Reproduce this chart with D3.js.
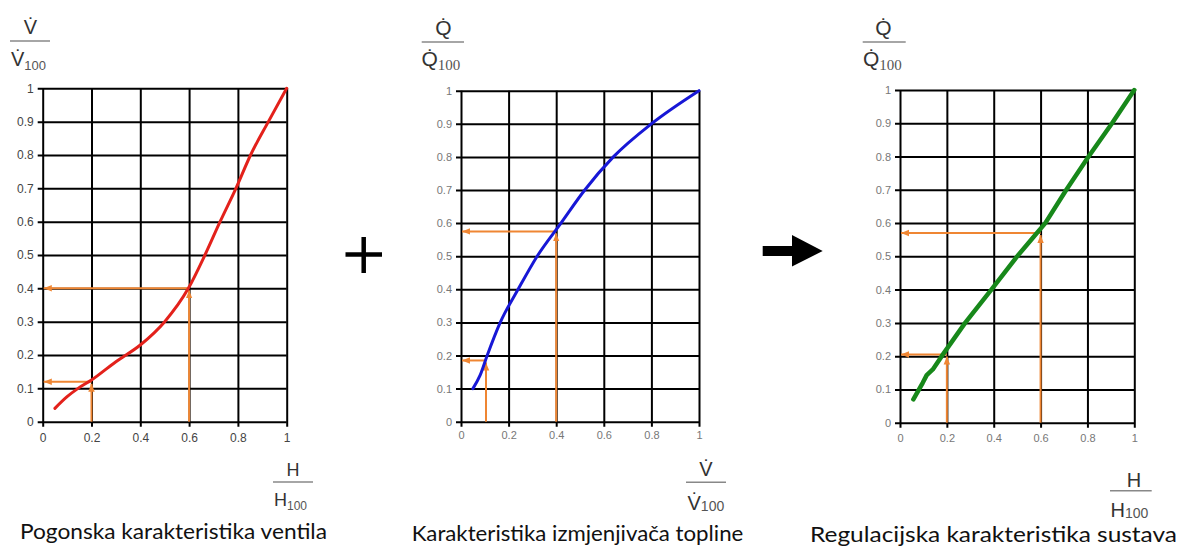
<!DOCTYPE html>
<html><head><meta charset="utf-8">
<script src="https://cdn.jsdelivr.net/npm/d3@7"></script>
<style>body{margin:0;background:#fff}svg{display:block}</style>
</head><body><svg id="c" width="1180" height="547"></svg>
<script>
// ---- data ----
const xTickValues = [0, 0.2, 0.4, 0.6, 0.8, 1];
const xTickLabels = ["0", "0.2", "0.4", "0.6", "0.8", "1"];
const yTickValues = [0, 0.1, 0.2, 0.3, 0.4, 0.5, 0.6, 0.7, 0.8, 0.9, 1];
const yTickLabels = ["0", "0.1", "0.2", "0.3", "0.4", "0.5", "0.6", "0.7", "0.8", "0.9", "1"];

const valveX = [0.05, 0.1, 0.145, 0.2, 0.3, 0.4, 0.5, 0.597, 0.665, 0.727, 0.792, 0.852, 0.925, 1];
const valveY = [0.04, 0.075, 0.1, 0.125, 0.18, 0.23, 0.3, 0.4, 0.5, 0.6, 0.7, 0.8, 0.9, 1];

const hexX = [0.05, 0.08, 0.11, 0.165, 0.24, 0.32, 0.42, 0.52, 0.64, 0.8, 1];
const hexY = [0.1, 0.14, 0.2, 0.3, 0.4, 0.5, 0.6, 0.7, 0.8, 0.9, 1];

const sysX = [0.057, 0.097, 0.114, 0.14, 0.178, 0.278, 0.39, 0.5, 0.56, 0.62, 0.71, 0.805, 0.905, 1];
const sysY = [0.07, 0.12, 0.143, 0.16, 0.2, 0.3, 0.4, 0.5, 0.55, 0.6, 0.7, 0.8, 0.9, 1];

const valveGuideX = [0.2, 0.6];
const valveGuideY = [0.12, 0.4];
const hexGuideX = [0.105, 0.4];
const hexGuideY = [0.185, 0.575];
const sysGuideX = [0.2, 0.6];
const sysGuideY = [0.205, 0.57];

const titles = ["Pogonska karakteristika ventila", "Karakteristika izmjenjivača topline", "Regulacijska karakteristika sustava"];

// ---- drawing ----
const svg = d3.select("#c");
const ORANGE = "#ef8633";

const defs = svg.append("defs");
defs.append("marker").attr("id", "ah")
  .attr("markerUnits", "userSpaceOnUse")
  .attr("viewBox", "0 -5 10 10")
  .attr("refX", 9).attr("refY", 0)
  .attr("markerWidth", 9).attr("markerHeight", 9)
  .attr("orient", "auto")
  .append("path").attr("d", "M0,-3.6L9,0L0,3.6Z").attr("fill", ORANGE);

function panel(cfg) {
  const x = d3.scaleLinear().domain([0, 1]).range([cfg.x0, cfg.x1]);
  const y = d3.scaleLinear().domain([0, 1]).range([cfg.y1, cfg.y0]);
  const g = svg.append("g");
  const w = cfg.x1 - cfg.x0, h = cfg.y1 - cfg.y0;

  const ya = g.append("g").attr("transform", `translate(${cfg.x0 - 5},0)`)
    .call(d3.axisLeft(y).tickValues(yTickValues).tickFormat((d, i) => yTickLabels[i])
      .tickSize(-(w + 5)).tickPadding(cfg.tp));
  const xa = g.append("g").attr("transform", `translate(0,${cfg.y1 + 5})`)
    .call(d3.axisBottom(x).tickValues(xTickValues).tickFormat((d, i) => xTickLabels[i])
      .tickSize(-(h + 5)).tickPadding(cfg.xp));
  [ya, xa].forEach(a => {
    a.select(".domain").remove();
    a.selectAll("line").attr("stroke", "#000").attr("stroke-width", 2);
    a.selectAll("text").attr("font-family", "Liberation Sans, Arial, sans-serif")
      .attr("font-size", cfg.fs).attr("fill", cfg.tc);
  });

  // guides
  cfg.gx.forEach((gx, i) => {
    const gy = cfg.gy[i];
    g.append("line").attr("x1", x(gx)).attr("x2", x(gx)).attr("y1", y(0)).attr("y2", y(gy) + 2)
      .attr("stroke", ORANGE).attr("stroke-width", 2).attr("marker-end", "url(#ah)");
    g.append("line").attr("x1", x(gx)).attr("x2", x(0) + 1).attr("y1", y(gy)).attr("y2", y(gy))
      .attr("stroke", ORANGE).attr("stroke-width", 2).attr("marker-end", "url(#ah)");
  });

  const pts = cfg.cx.map((v, i) => [v, cfg.cy[i]]);
  g.append("path").datum(pts)
    .attr("d", d3.line().x(d => x(d[0])).y(d => y(d[1])).curve(cfg.curve))
    .attr("fill", "none").attr("stroke", cfg.color).attr("stroke-width", cfg.lw)
    .attr("stroke-linecap", "round").attr("stroke-linejoin", "round");
}

panel({x0: 42.7, x1: 286.7, y0: 88.3, y1: 421.7, cx: valveX, cy: valveY, gx: valveGuideX, gy: valveGuideY,
  color: "#e3211b", lw: 3, tp: 4, xp: 7, fs: 12, tc: "#444", curve: d3.curveMonotoneX});
panel({x0: 461, x1: 699, y0: 90.7, y1: 421.7, cx: hexX, cy: hexY, gx: hexGuideX, gy: hexGuideY,
  color: "#1717d6", lw: 3, tp: 4, xp: 5, fs: 11, tc: "#777", curve: d3.curveMonotoneX});
panel({x0: 900, x1: 1134.3, y0: 90, y1: 422.7, cx: sysX, cy: sysY, gx: sysGuideX, gy: sysGuideY,
  color: "#17881a", lw: 4.5, tp: 4, xp: 7, fs: 11, tc: "#777", curve: d3.curveLinear});

// fraction labels
function frac(o) {
  const g = svg.append("g").attr("fill", "#333").attr("font-family", "Liberation Sans, Arial, sans-serif");
  g.append("text").attr("x", o.nx).attr("y", o.ny).attr("text-anchor", "middle")
    .attr("font-size", o.fs).text(o.sym + o.dot);
  g.append("line").attr("x1", o.lx1).attr("x2", o.lx2).attr("y1", o.ly).attr("y2", o.ly)
    .attr("stroke", "#888").attr("stroke-width", 1.5);
  const t = g.append("text").attr("x", o.dx).attr("y", o.dy).attr("font-size", o.fs);
  t.append("tspan").text(o.sym + o.dot);
  t.append("tspan").attr("font-size", o.sfs).attr("dy", o.sdy).attr("font-family", o.sf).attr("fill", "#555").text("100");
}
frac({sym: "V", dot: "\u0307", nx: 30.5, ny: 34, lx1: 10, lx2: 50, ly: 41, dx: 11, dy: 66, fs: 20, sfs: 13, sdy: 4, sf: "Liberation Sans"});
frac({sym: "Q", dot: "\u0307", nx: 443.3, ny: 35, lx1: 421.7, lx2: 464, ly: 42, dx: 421.5, dy: 66, fs: 21, sfs: 15, sdy: 4, sf: "Liberation Serif"});
frac({sym: "Q", dot: "\u0307", nx: 883.3, ny: 35, lx1: 862.7, lx2: 905.7, ly: 42, dx: 863, dy: 66, fs: 21, sfs: 15, sdy: 4, sf: "Liberation Serif"});
frac({sym: "H", dot: "", nx: 293, ny: 475.5, lx1: 273, lx2: 313, ly: 482, dx: 274, dy: 505.5, fs: 18, sfs: 12, sdy: 4, sf: "Liberation Sans"});
frac({sym: "V", dot: "\u0307", nx: 706, ny: 476, lx1: 686, lx2: 726, ly: 482.3, dx: 687.5, dy: 509.5, fs: 20, sfs: 14, sdy: 1, sf: "Liberation Sans"});
frac({sym: "H", dot: "", nx: 1134, ny: 487, lx1: 1110, lx2: 1151.7, ly: 490.7, dx: 1110.5, dy: 517, fs: 20, sfs: 14, sdy: 1, sf: "Liberation Sans"});

// titles
const tpos = [[20, 539, 307], [411.7, 541, 331.6], [810, 542, 367]];
titles.forEach((t, i) => {
  svg.append("text").attr("x", tpos[i][0]).attr("y", tpos[i][1])
    .attr("font-family", "Lato, 'Open Sans', sans-serif").attr("font-size", 21).attr("fill", "#111")
    .attr("textLength", tpos[i][2]).attr("lengthAdjust", "spacingAndGlyphs").text(t);
});

// plus sign and arrow
svg.append("line").attr("x1", 345.5).attr("x2", 382).attr("y1", 254.5).attr("y2", 254.5).attr("stroke", "#000").attr("stroke-width", 4.5);
svg.append("line").attr("x1", 363.7).attr("x2", 363.7).attr("y1", 237).attr("y2", 273).attr("stroke", "#000").attr("stroke-width", 4.5);
svg.append("path").attr("d", "M762.7,246L792,246L792,235L822.7,251L792,266.5L792,256L762.7,256Z").attr("fill", "#000");
</script></body></html>
